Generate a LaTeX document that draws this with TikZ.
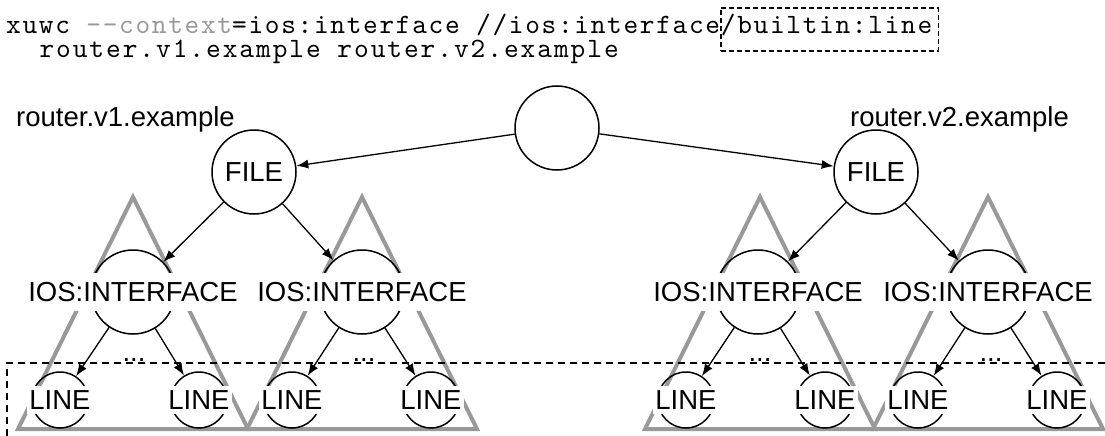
\documentclass[tikz,border=0pt]{standalone}
\usepackage{fontspec}
\setmainfont{Liberation Sans}
\newfontfamily\cmdfam{lmmono10-regular.otf}[LetterSpace=6]
\newfontfamily\argfam{lmmono10-regular.otf}[LetterSpace=7]
\usetikzlibrary{arrows.meta}
\definecolor{treegray}{gray}{0.6}
\newcommand\diagfont{\fontsize{27.5}{33}\selectfont}
\newcommand\cmdfont{\cmdfam\fontsize{28}{30}\selectfont}
\newcommand\argfont{\argfam\fontsize{28}{30}\selectfont}

\begin{document}
\begin{tikzpicture}[x=1pt,y=-1pt,
  ring/.style={circle,draw,line width=1.5pt,minimum size=84pt,inner sep=0pt},
  leafring/.style={circle,draw,line width=1.5pt,minimum size=56pt,inner sep=0pt},
  caption/.style={fill=white,inner xsep=2pt,inner ysep=9pt,font=\diagfont},
  leafcaption/.style={fill=white,inner xsep=2pt,inner ysep=5pt,font=\diagfont},
  edge/.style={draw,line width=1.3pt,-{Latex[length=12pt,width=9pt]}},
  subtree/.style={draw=treegray,line width=4pt,line join=miter},
  frame/.style={draw,line width=1.3pt,dash pattern=on 7pt off 5pt},
  cmdline/.style={anchor=base west,inner sep=0pt,font=\cmdfont}]

\useasboundingbox (0,0) rectangle (1105,436);

% subtree outlines below each interface node
\foreach \x in {133,362,760,988}
  \draw[subtree] (\x,197) -- (\x+115,429) -- (\x-115,429) -- cycle;

% selected region
\draw[frame] (1105,363) -- (7,363) -- (7,436);

% tree nodes
\node[ring] (root) at (557,128) {};
\node[ring] (fileL) at (254,172) {};
\node[ring] (fileR) at (876,172) {};
\node[ring] (ios1) at (133,292) {};
\node[ring] (ios2) at (362,292) {};
\node[ring] (ios3) at (758,292) {};
\node[ring] (ios4) at (988,292) {};
\node[leafring] (l1a) at (60,400) {};
\node[leafring] (l1b) at (199,400) {};
\node[leafring] (l2a) at (292,400) {};
\node[leafring] (l2b) at (431,400) {};
\node[leafring] (l3a) at (686,400) {};
\node[leafring] (l3b) at (825,400) {};
\node[leafring] (l4a) at (918,400) {};
\node[leafring] (l4b) at (1057,400) {};

% edges
\draw[edge] (root) -- (fileL);
\draw[edge] (root) -- (fileR);
\draw[edge] (fileL) -- (ios1);
\draw[edge] (fileL) -- (ios2);
\draw[edge] (fileR) -- (ios3);
\draw[edge] (fileR) -- (ios4);
\draw[edge] (ios1) -- (l1a);
\draw[edge] (ios1) -- (l1b);
\draw[edge] (ios2) -- (l2a);
\draw[edge] (ios2) -- (l2b);
\draw[edge] (ios3) -- (l3a);
\draw[edge] (ios3) -- (l3b);
\draw[edge] (ios4) -- (l4a);
\draw[edge] (ios4) -- (l4b);

% captions
\node[caption] (tfileL) at (fileL) {FILE};
\node[caption] (tfileR) at (fileR) {FILE};
\foreach \n in {ios1,ios2,ios3,ios4}
  \node[caption] (t\n) at (\n) {IOS:INTERFACE};
\foreach \n in {l1a,l1b,l2a,l2b,l3a,l3b,l4a,l4b}
  \node[leafcaption] (t\n) at (\n) {LINE};
\foreach \x/\n in {134/1,364/2,760/3,991/4}
  \node[anchor=base,inner sep=0pt,font=\diagfont] (more\n) at (\x,361) {...};

\node[anchor=base west,inner sep=0pt,font=\diagfont] (hostL) at (16,126) {router.v1.example};
\node[anchor=base east,inner sep=0pt,font=\diagfont] (hostR) at (1069,126) {router.v2.example};

% command line
\node[cmdline,text depth=0pt] (cmd) at (6,34)
  {xuwc \textcolor{treegray}{-{}-context}=ios:interface //ios:interface};
\node[anchor=base west,inner xsep=0pt,inner ysep=4pt,text height=22pt,text depth=13pt,
  font=\cmdfont,draw,line width=1.1pt,dash pattern=on 5pt off 3pt] (sel) at (cmd.base east)
  {/builtin:line\hspace*{6pt}};
\node[cmdline,font=\argfont,text height=17pt] (args) at (6,58)
  {~~router.v1.example router.v2.example};
\end{tikzpicture}
\end{document}
